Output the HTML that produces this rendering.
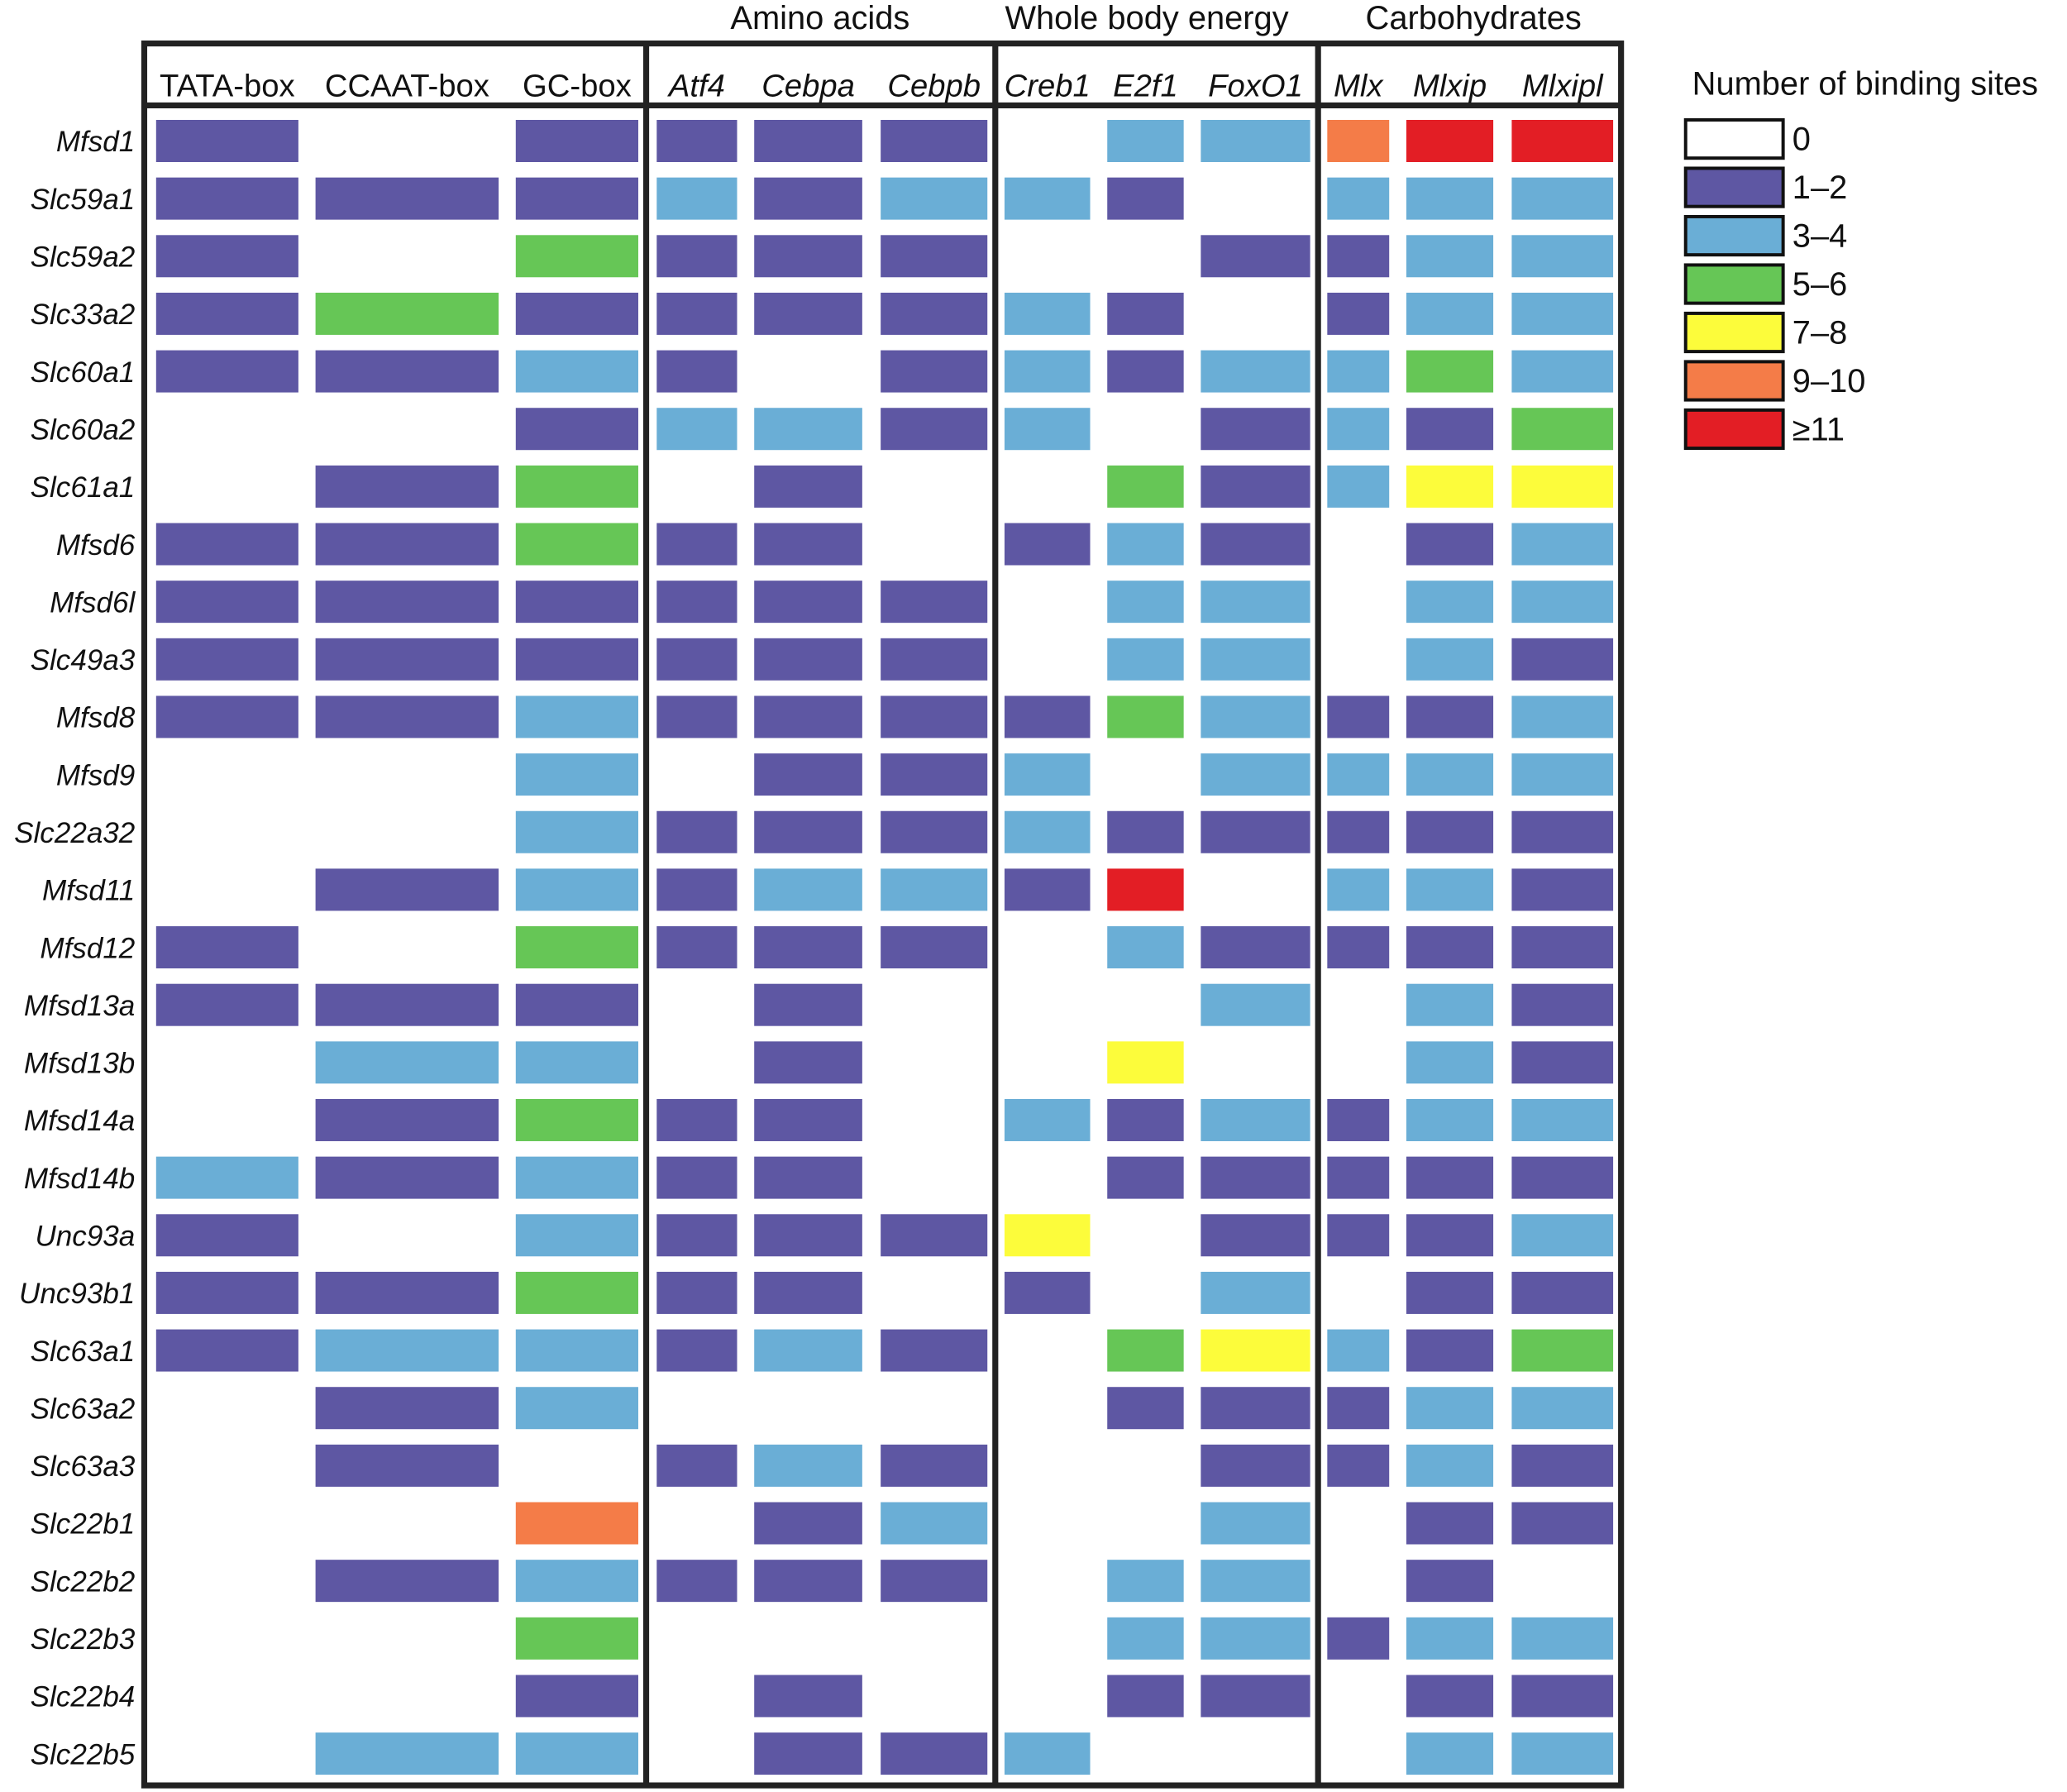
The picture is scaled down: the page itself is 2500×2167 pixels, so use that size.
<!DOCTYPE html>
<html><head><meta charset="utf-8"><style>
html,body{margin:0;padding:0;background:#fff}
svg{display:block}
text{font-family:"Liberation Sans",Arial,sans-serif;fill:#111}
</style></head><body>
<svg id="chart" width="2500" height="2167" viewBox="0 0 1568 1360" xmlns="http://www.w3.org/2000/svg">
<g id="cells"></g>
<g id="frame"></g>
<g id="labels"></g>
<g id="legend"></g>
</svg>
<script>
const columns = ["TATA-box","CCAAT-box","GC-box","Atf4","Cebpa","Cebpb","Creb1","E2f1","FoxO1","Mlx","Mlxip","Mlxipl"];
const genes = ["Mfsd1","Slc59a1","Slc59a2","Slc33a2","Slc60a1","Slc60a2","Slc61a1","Mfsd6","Mfsd6l","Slc49a3","Mfsd8","Mfsd9","Slc22a32","Mfsd11","Mfsd12","Mfsd13a","Mfsd13b","Mfsd14a","Mfsd14b","Unc93a","Unc93b1","Slc63a1","Slc63a2","Slc63a3","Slc22b1","Slc22b2","Slc22b3","Slc22b4","Slc22b5"];
const levels = ["0","1–2","3–4","5–6","7–8","9–10","≥11"];
const groups = ["Amino acids","Whole body energy","Carbohydrates"];
const values = [
[1,0,1,1,1,1,0,2,2,5,6,6],
[1,1,1,2,1,2,2,1,0,2,2,2],
[1,0,3,1,1,1,0,0,1,1,2,2],
[1,3,1,1,1,1,2,1,0,1,2,2],
[1,1,2,1,0,1,2,1,2,2,3,2],
[0,0,1,2,2,1,2,0,1,2,1,3],
[0,1,3,0,1,0,0,3,1,2,4,4],
[1,1,3,1,1,0,1,2,1,0,1,2],
[1,1,1,1,1,1,0,2,2,0,2,2],
[1,1,1,1,1,1,0,2,2,0,2,1],
[1,1,2,1,1,1,1,3,2,1,1,2],
[0,0,2,0,1,1,2,0,2,2,2,2],
[0,0,2,1,1,1,2,1,1,1,1,1],
[0,1,2,1,2,2,1,6,0,2,2,1],
[1,0,3,1,1,1,0,2,1,1,1,1],
[1,1,1,0,1,0,0,0,2,0,2,1],
[0,2,2,0,1,0,0,4,0,0,2,1],
[0,1,3,1,1,0,2,1,2,1,2,2],
[2,1,2,1,1,0,0,1,1,1,1,1],
[1,0,2,1,1,1,4,0,1,1,1,2],
[1,1,3,1,1,0,1,0,2,0,1,1],
[1,2,2,1,2,1,0,3,4,2,1,3],
[0,1,2,0,0,0,0,1,1,1,2,2],
[0,1,0,1,2,1,0,0,1,1,2,1],
[0,0,5,0,1,2,0,0,2,0,1,1],
[0,1,2,1,1,1,0,2,2,0,1,0],
[0,0,3,0,0,0,0,2,2,1,2,2],
[0,0,1,0,1,0,0,1,1,0,1,1],
[0,2,2,0,1,1,2,0,0,0,2,2]
];
const palette = ["#ffffff","#5e57a3","#6aaed6","#66c656","#fcfc3b","#f47c48","#e31e25"];
const colLeft = [118,239,391,498,572,668,762,840,911,1007,1067,1147];
const colRight = [226,378,484,559,654,749,827,898,994,1054,1133,1224];
const italic = [false,false,false,true,true,true,true,true,true,true,true,true];
const NS="http://www.w3.org/2000/svg";
function rowY(i){return 107+i*43.71;}
function mk(tag,attrs,parent){const e=document.createElementNS(NS,tag);for(const k in attrs)e.setAttribute(k,attrs[k]);parent.appendChild(e);return e;}
const cells=document.getElementById('cells');
values.forEach((row,i)=>{row.forEach((v,j)=>{if(v===0)return;
 const r=mk('rect',{x:colLeft[j],y:rowY(i)-16,width:colRight[j]-colLeft[j],height:32,fill:palette[v]},cells);
 
 
});});
const frame=document.getElementById('frame');
const fs={fill:'none',stroke:'#222','stroke-width':4.5};
mk('rect',Object.assign({x:109,y:33,width:1121,height:1322},fs),frame);
mk('line',{x1:109,y1:80,x2:1230,y2:80,stroke:'#222','stroke-width':4.5},frame);
[490,755,1000].forEach(x=>mk('line',{x1:x,y1:33,x2:x,y2:1355,stroke:'#222','stroke-width':4.5},frame));
const labels=document.getElementById('labels');
columns.forEach((c,j)=>{const t=mk('text',{x:(colLeft[j]+colRight[j])/2,y:73,'text-anchor':'middle','font-size':24,'font-style':italic[j]?'italic':'normal'},labels);t.textContent=c;
 });
genes.forEach((g,i)=>{const t=mk('text',{x:102,y:rowY(i)+8,'text-anchor':'end','font-size':22,'font-style':'italic'},labels);t.textContent=g;
 });
const gx=[622,870,1118];
groups.forEach((g,k)=>{const t=mk('text',{x:gx[k],y:22,'text-anchor':'middle','font-size':25},labels);t.textContent=g;
 });
const legend=document.getElementById('legend');
const lt=mk('text',{x:1284,y:72,'font-size':25},legend);lt.textContent="Number of binding sites";

levels.forEach((l,k)=>{const y=91+k*36.7;
 const r=mk('rect',{x:1279,y:y,width:74,height:29,fill:palette[k],stroke:'#111','stroke-width':2.5},legend);
 
 const t=mk('text',{x:1360,y:y+23,'font-size':25},legend);t.textContent=l;
 });
</script>
</body></html>
